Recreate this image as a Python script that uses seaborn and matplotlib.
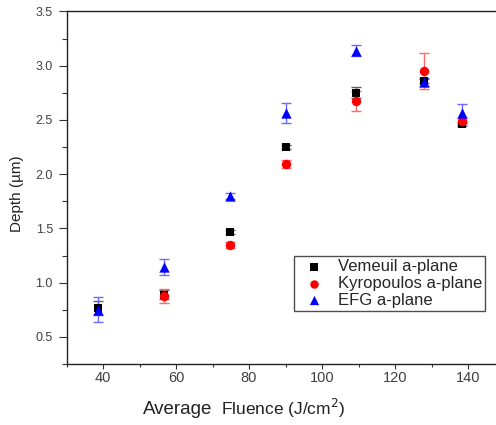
import matplotlib
matplotlib.use("Agg")
import matplotlib.pyplot as plt
import seaborn as sns
import numpy as np
import pandas as pd
from matplotlib.ticker import MultipleLocator

# ---- data ----
fluence_v = [38.5, 56.7, 74.9, 90.1, 109.2, 128.0, 138.4]
depth_v = [0.77, 0.89, 1.47, 2.25, 2.75, 2.86, 2.46]
err_v = [0.065, 0.04, 0.02, 0.02, 0.05, 0.02, 0.02]

fluence_k = [56.7, 74.9, 90.1, 109.2, 128.0, 138.4]
depth_k = [0.875, 1.345, 2.095, 2.675, 2.95, 2.49]
err_k = [0.065, 0.03, 0.04, 0.095, 0.165, 0.03]

fluence_e = [38.5, 56.7, 74.9, 90.1, 109.2, 128.0, 138.4]
depth_e = [0.75, 1.145, 1.80, 2.565, 3.14, 2.85, 2.56]
err_e = [0.117, 0.075, 0.03, 0.09, 0.05, 0.035, 0.085]

labels = ["Vemeuil a-plane", "Kyropoulos a-plane", "EFG a-plane"]
xticks = [40, 60, 80, 100, 120, 140]
yticks = [0.5, 1.0, 1.5, 2.0, 2.5, 3.0, 3.5]

sns.set_style("white")
plt.rcParams['font.family'] = ['Liberation Sans', 'DejaVu Sans']

W, H = 496, 425
fig = plt.figure(figsize=(W / 100, H / 100), dpi=100)
l, r, t, b = 66.5, 504.5, 11.5, 364
ax = fig.add_axes([l / W, 1 - b / H, (r - l) / W, (b - t) / H])

series = [
    (fluence_v, depth_v, err_v, labels[0], "black", "#606060", "s", 40),
    (fluence_k, depth_k, err_k, labels[1], "red", "#ff6a6a", "o", 46),
    (fluence_e, depth_e, err_e, labels[2], "blue", "#6a6aff", "^", 55),
]

for fx, dy, er, lab, col, ecol, mk, sz in series:
    ax.errorbar(fx, dy, yerr=er, fmt="none", ecolor=ecol, elinewidth=1.0,
                capsize=3.8, capthick=1.0, zorder=2)

for fx, dy, er, lab, col, ecol, mk, sz in series:
    df = pd.DataFrame({"Fluence": fx, "Depth": dy})
    sns.scatterplot(data=df, x="Fluence", y="Depth", ax=ax, color=col,
                    marker=mk, s=sz, linewidth=0, label=lab, zorder=3)

ax.set_xlim(30, 150)
ax.set_ylim(0.25, 3.5)
ax.set_xticks(xticks)
ax.set_yticks(yticks)
ax.set_yticklabels([f"{v:.1f}" for v in yticks])
ax.xaxis.set_minor_locator(MultipleLocator(10))
ax.yaxis.set_minor_locator(MultipleLocator(0.25))
ax.tick_params(axis="x", which="major", direction="out", length=3.6, width=0.8,
               color="#333333", labelsize=10.5, labelcolor="#404040", pad=1.5,
               bottom=True)
ax.tick_params(axis="x", which="minor", direction="out", length=2.2, width=0.8,
               color="#333333", bottom=True)
ax.tick_params(axis="y", which="major", direction="out", length=5.8, width=0.8,
               color="#333333", labelsize=9, labelcolor="#404040", pad=4,
               left=True)
ax.tick_params(axis="y", which="minor", direction="out", length=3.3, width=0.8,
               color="#333333", left=True)
for s in ax.spines.values():
    s.set_color("#222222")
    s.set_linewidth(1.0)

ax.set_xlabel("")
ax.set_ylabel("")
fig.text(17 / W, 1 - 193.5 / H, "Depth (\u00b5m)", rotation=90, ha="center",
         va="center", fontsize=11, color="#222222")
fig.text(143 / W, 1 - 414 / H, "Average", ha="left", va="baseline",
         fontsize=13.5, color="#222222")
fig.text(221 / W, 1 - 415.5 / H, "Fluence (J/cm$^2$)", ha="left", va="baseline",
         fontsize=12.5, color="#222222")

leg = ax.legend(loc="upper left",
                bbox_to_anchor=((294.3 - l) / (r - l), (b - 256) / (b - t)),
                borderaxespad=0, borderpad=0.2, handlelength=2.0,
                handletextpad=0.4, labelspacing=0.1, fontsize=12,
                frameon=True, fancybox=False, edgecolor="#222222",
                markerscale=0.9)
leg.get_frame().set_linewidth(1.0)

fig.savefig("out.png", dpi=100)
